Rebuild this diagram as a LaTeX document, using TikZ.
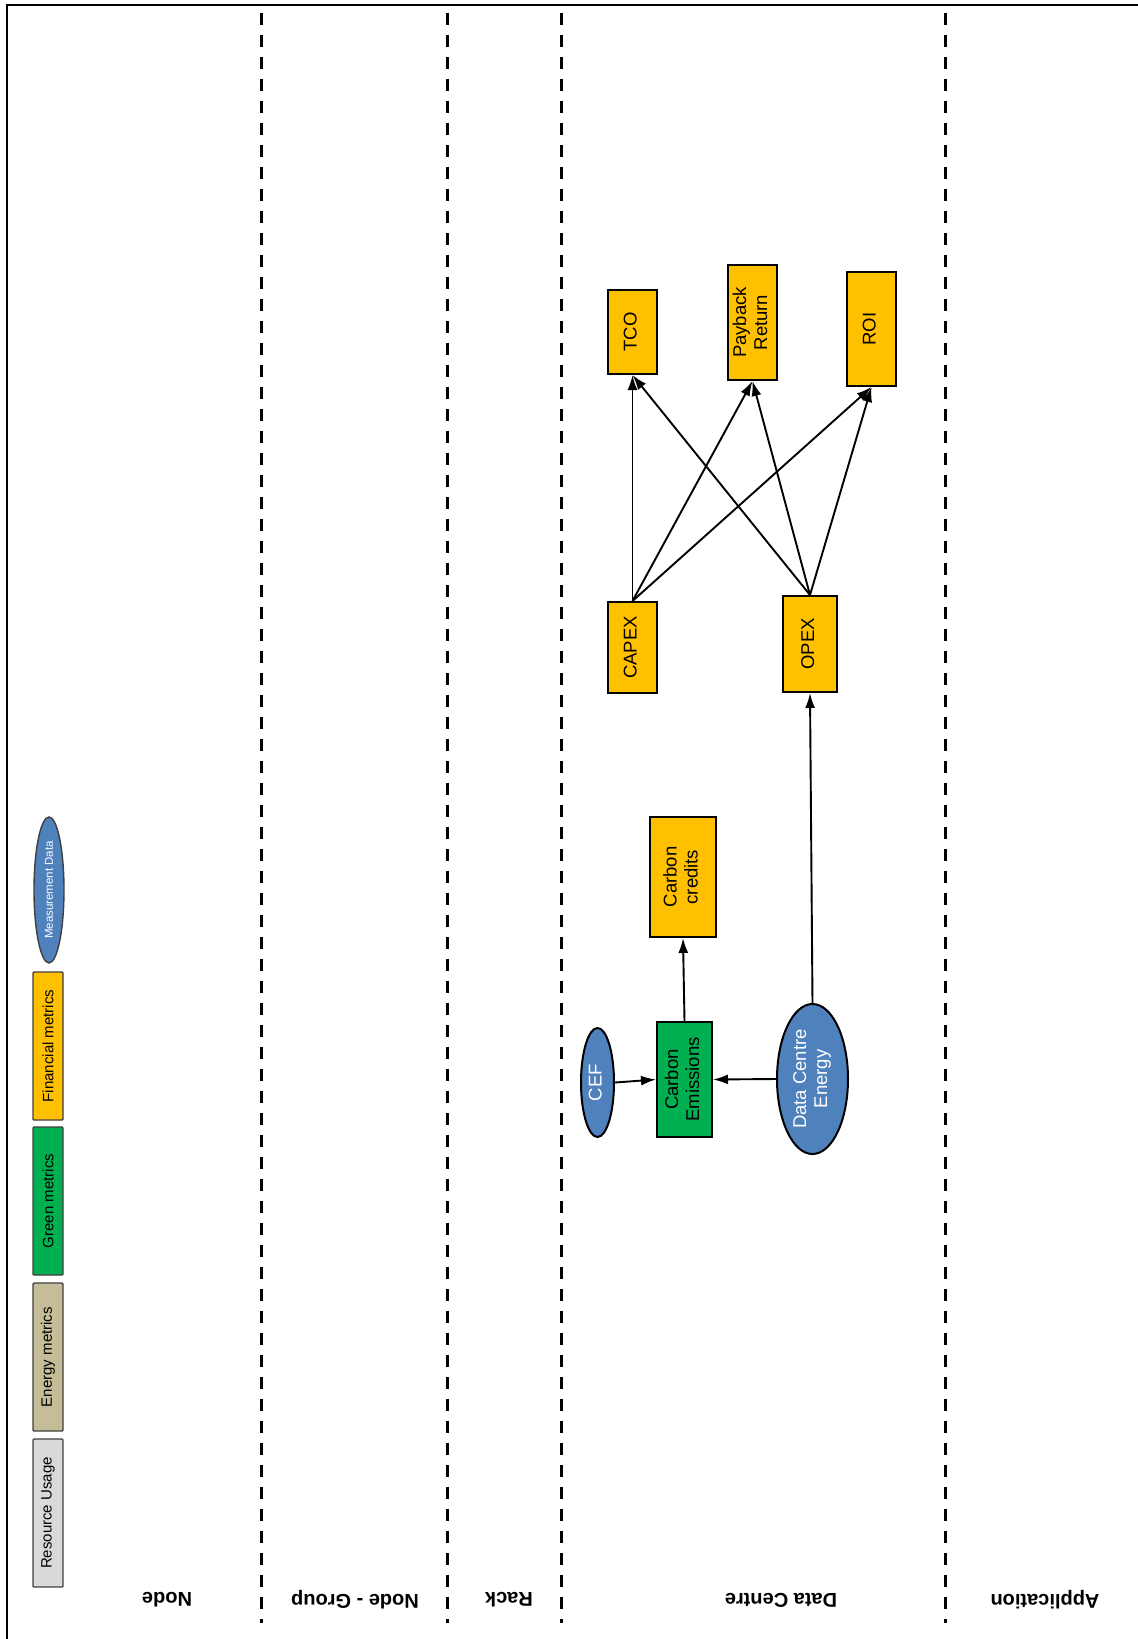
\documentclass[tikz,border=0pt]{standalone}
\usepackage{fontspec}
\setmainfont{Liberation Sans}
\usetikzlibrary{shapes.geometric,arrows.meta}
\definecolor{finc}{HTML}{FFC000}
\definecolor{grnc}{HTML}{00B050}
\definecolor{bluc}{HTML}{4F81BD}
\definecolor{engc}{HTML}{C4BD97}
\definecolor{resc}{HTML}{D9D9D9}
\newcommand{\rottext}[1]{\rotatebox{90}{\begin{tabular}{@{}c@{}}#1\end{tabular}}}
\begin{document}
\begin{tikzpicture}[x=1pt,y=-1pt,
  box/.style={draw=black, line width=2pt, inner sep=0pt, align=center,
    font=\fontsize{18.5}{21}\selectfont},
  finbox/.style={box, fill=finc},
  grnbox/.style={box, fill=grnc},
  measell/.style={box, ellipse, fill=bluc, text=white},
  legbox/.style={draw=black!75, line width=1.4pt, inner sep=0pt, rounded corners=1pt,
    minimum width=30, minimum height=148, font=\fontsize{15}{18}\selectfont},
  lane/.style={line width=3pt, dash pattern=on 12pt off 10pt},
  lanelabel/.style={font=\bfseries\fontsize{20}{24}\selectfont, rotate=180},
  arr/.style={-{Latex[length=15pt,width=10pt]}, line width=1.9pt}
]
\useasboundingbox (0,0) rectangle (1138,1639);
% frame
\draw[line width=2pt] (7,1639) -- (7,5) -- (1138,5);
% lanes
\foreach \xx in {261,447,561,945} \draw[lane] (\xx,13) -- (\xx,1623);
% lane labels
\node[lanelabel] (lnode) at (167,1600) {Node};
\node[lanelabel] (lgroup) at (355,1600) {Node - Group};
\node[lanelabel] (lrack) at (509,1600) {Rack};
\node[lanelabel] (ldc) at (781,1600) {Data Centre};
\node[lanelabel] (lapp) at (1045,1600) {Application};
% legend
\node[legbox, ellipse, fill=bluc, text=white, minimum height=146, font=\fontsize{11.5}{14}\selectfont] (lmeas) at (49,890) {\rotatebox{90}{Measurement Data}};
\node[legbox, fill=finc] (lfin) at (48,1046) {\rotatebox{90}{Financial metrics}};
\node[legbox, fill=grnc] (lgrn) at (48,1201) {\rotatebox{90}{Green metrics}};
\node[legbox, fill=engc] (leng) at (48,1357) {\rotatebox{90}{Energy metrics}};
\node[legbox, fill=resc] (lres) at (48,1513) {\rotatebox{90}{Resource Usage}};
% diagram nodes
\node[finbox, minimum width=49, minimum height=84] (tco) at (632.5,332) {\rottext{TCO}};
\node[finbox, minimum width=49, minimum height=115] (pay) at (752.5,322.5) {\rottext{Payback\\Return}};
\node[finbox, minimum width=49, minimum height=114] (roi) at (871.5,329) {\rottext{ROI}};
\node[finbox, minimum width=49, minimum height=91] (capex) at (632.5,647.5) {\rottext{CAPEX}};
\node[finbox, minimum width=54, minimum height=96] (opex) at (810,644) {\rottext{OPEX}};
\node[finbox, minimum width=66, minimum height=120] (cred) at (683,877) {\rottext{Carbon\\credits}};
\node[measell, minimum width=33, minimum height=109] (cef) at (597.5,1082.5) {\rottext{CEF}};
\node[grnbox, minimum width=55, minimum height=115] (cem) at (684.5,1079.5) {\rottext{Carbon\\Emissions}};
\node[measell, minimum width=71, minimum height=150] (dce) at (812.5,1079) {\rottext{Data Centre\\Energy}};
% connectors
\draw[arr] (cef.east) -- (cem.west);
\draw[arr] (dce.west) -- (cem.east);
\draw[arr] (cem.north) -- (cred.south);
\draw[arr] (dce.north) -- (opex.south);
\foreach \t in {tco,pay,roi} {
  \draw[arr] (capex.north) -- (\t.south);
  \draw[arr] (opex.north) -- (\t.south);
}
\end{tikzpicture}
\end{document}
